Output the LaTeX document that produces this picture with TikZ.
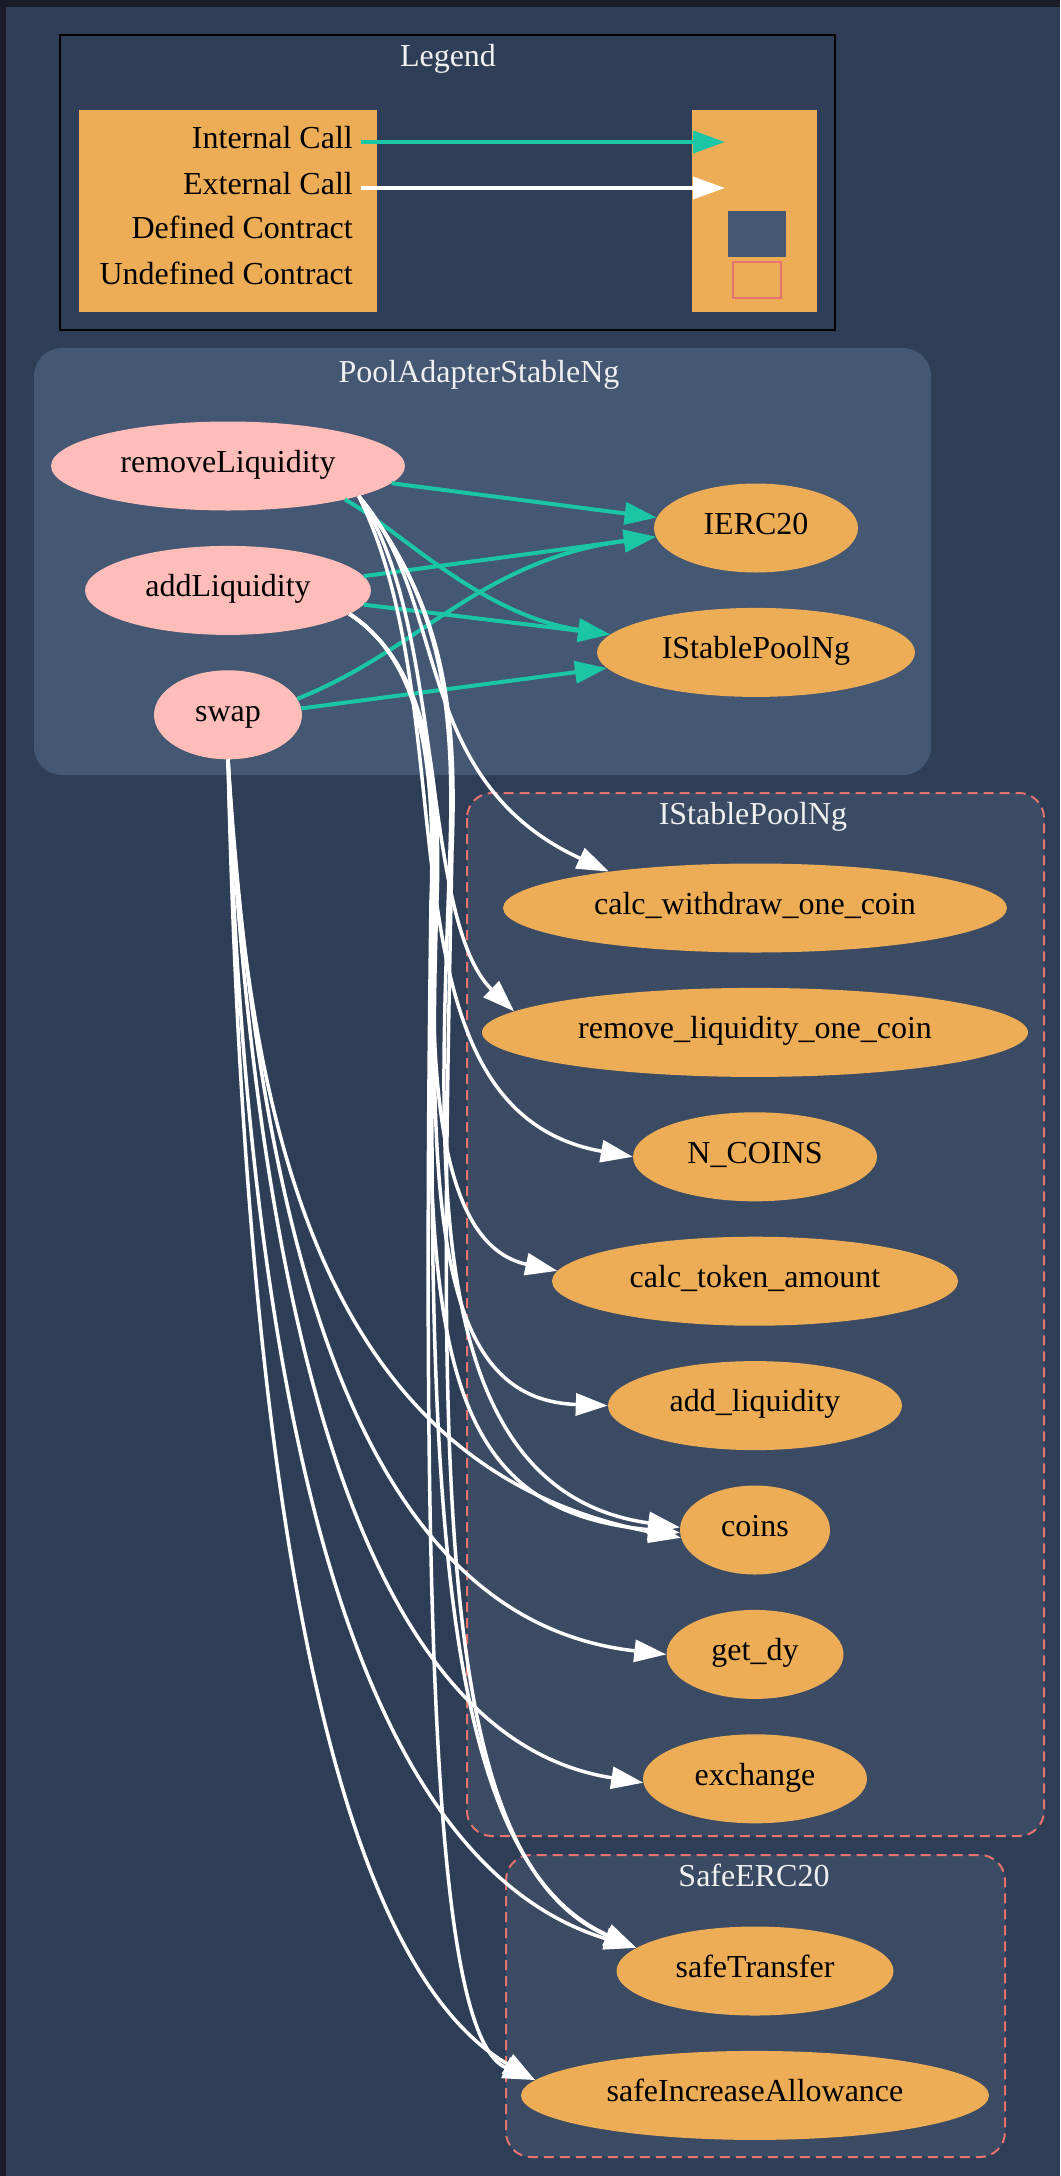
\documentclass[tikz,border=0pt]{standalone}
\usepackage{fontspec}
\setmainfont{Liberation Serif}
\usepackage{tikz}
\usetikzlibrary{arrows.meta, positioning, shapes.geometric}
\definecolor{bgcol}{HTML}{2E3E56}
\definecolor{framecol}{HTML}{1B1B29}
\definecolor{defcol}{HTML}{445773}
\definecolor{undefcol}{HTML}{3B4B63}
\definecolor{undefline}{HTML}{E8726D}
\definecolor{orangefn}{HTML}{EDAD56}
\definecolor{pinkfn}{HTML}{FFBDB9}
\definecolor{tealcall}{HTML}{1BC6A6}
\definecolor{titlecol}{HTML}{F0F0F0}

\begin{document}
\begin{tikzpicture}
                            [x=1pt, y=-1pt,
                             font=\fontsize{32}{38}\selectfont,
                             every node/.style={inner sep=0pt, text height=1.35em, text depth=0.1em},
                             fn/.style={ellipse, fill=pinkfn, minimum height=89pt},
                             extfn/.style={ellipse, fill=orangefn, minimum height=89pt},
                             clustertitle/.style={text=titlecol},
                             undefbox/.style={draw=undefline, fill=undefcol, line width=2pt, dash pattern=on 10pt off 6pt, rounded corners=25pt},
                             internal/.style={draw=tealcall, line width=4pt, -{Triangle[length=32pt, width=22pt]}},
                             external/.style={draw=white, line width=3.5pt, -{Triangle[length=32pt, width=22pt]}}]

    \useasboundingbox (0,0) rectangle (1060,2176);
    \fill[framecol] (0,0) rectangle (1060,2176);
    \fill[bgcol] (6,7) rectangle (1060,2176);

    % legend
    \draw[black, line width=2pt] (60,35) rectangle (835,330);
    \node[clustertitle] (legendtitle) at (448,60) {Legend};
    \fill[orangefn] (79,110) rectangle (377,312);
    \fill[orangefn] (692,110) rectangle (817,312);
    \node[anchor=east] (keyint) at (353,142) {Internal Call};
    \node[anchor=east] (keyext) at (353,188) {External Call};
    \node[anchor=east] (keydef) at (353,232) {Defined Contract};
    \node[anchor=east] (keyundef) at (353,278) {Undefined Contract};
    \coordinate (keyintend) at (725,142);
    \coordinate (keyextend) at (725,188);
    \draw[internal] ([xshift=8pt]keyint.east) -- (keyintend);
    \draw[external] ([xshift=8pt]keyext.east) -- (keyextend);
    \fill[defcol] (728,211) rectangle (786,257);
    \draw[undefline, line width=2pt, fill=orangefn] (733,262) rectangle (781,298);

    % clusters
    \fill[defcol, rounded corners=28pt] (34,348) rectangle (931,775);
    \node[clustertitle] (pooltitle) at (479,376) {PoolAdapterStableNg};
    \draw[undefbox] (467,793) rectangle (1044,1836);
    \node[clustertitle] (ispooltitle) at (753,818) {IStablePoolNg};
    \draw[undefbox] (506,1855) rectangle (1005,2157);
    \node[clustertitle] (safetitle) at (754,1880) {SafeERC20};

    \node[fn, minimum width=354pt] (rl) at (228,466) {removeLiquidity};
    \node[fn, minimum width=286pt, below=35pt of rl] (al) {addLiquidity};
    \node[fn, minimum width=148pt, below=35pt of al] (sw) {swap};
    \node[extfn, minimum width=204pt] (ierc) at (756,528) {IERC20};
    \node[extfn, minimum width=318pt, below=35pt of ierc] (isp) {IStablePoolNg};

    \node[extfn, minimum width=504pt] (cwoc) at (755,908) {calc\_withdraw\_one\_coin};
    \node[extfn, minimum width=546pt, below=35pt of cwoc] (rloc) {remove\_liquidity\_one\_coin};
    \node[extfn, minimum width=244pt, below=35pt of rloc] (ncoins) {N\_COINS};
    \node[extfn, minimum width=406pt, below=35pt of ncoins] (cta) {calc\_token\_amount};
    \node[extfn, minimum width=294pt, below=35pt of cta] (addliq) {add\_liquidity};
    \node[extfn, minimum width=150pt, below=35pt of addliq] (coins) {coins};
    \node[extfn, minimum width=177pt, below=35pt of coins] (getdy) {get\_dy};
    \node[extfn, minimum width=224pt, below=35pt of getdy] (exch) {exchange};
    \node[extfn, minimum width=277pt] (stransfer) at (755,1971) {safeTransfer};
    \node[extfn, minimum width=468pt, below=35pt of stransfer] (sia) {safeIncreaseAllowance};

    % internal calls
    \draw[internal] (rl.-6) -- (ierc.174);
    \draw[internal] (rl.-16) .. controls (400,530) and (480,615) .. (isp.173);
    \draw[internal] (al.6) -- (ierc.185);
    \draw[internal] (al.-6) -- (isp.173);
    \draw[internal] (sw.13) .. controls (420,650) and (480,560) .. (ierc.185);
    \draw[internal] (sw.5) -- (isp.186);

    % external calls
    \draw[external] (rl.-13) .. controls (450,600) and (410,780) .. (cwoc.166);
    \draw[external] (rl.-13) .. controls (445,620) and (420,920) .. (rloc.175);
    \draw[external] (rl.-13) .. controls (470,720) and (370,1110) .. (ncoins.west);
    \draw[external] (rl.-13) .. controls (440,600) and (455,700) .. (450,850)
                             .. controls (440,1150) and (415,1490) .. (coins.178);
    \draw[external] (rl.-13) .. controls (440,600) and (458,700) .. (452,850)
                             .. controls (440,1450) and (430,1860) .. (stransfer.169);
    \draw[external] (al.-11) .. controls (420,660) and (440,760) .. (435,900)
                             .. controls (425,1150) and (460,1250) .. (cta.177);
    \draw[external] (al.-11) .. controls (420,660) and (442,760) .. (437,900)
                             .. controls (425,1250) and (450,1400) .. (addliq.west);
    \draw[external] (al.-11) .. controls (420,660) and (438,760) .. (433,900)
                             .. controls (420,1350) and (440,1510) .. (coins.182);
    \draw[external] (al.-11) .. controls (420,660) and (440,760) .. (434,900)
                             .. controls (425,1500) and (440,1860) .. (stransfer.169);
    \draw[external] (al.-11) .. controls (420,660) and (436,760) .. (431,900)
                             .. controls (420,1700) and (440,2040) .. (sia.176);
    \draw[external] (sw.south) .. controls (250,1150) and (330,1470) .. (coins.186);
    \draw[external] (sw.south) .. controls (260,1250) and (360,1620) .. (getdy.west);
    \draw[external] (sw.south) .. controls (260,1350) and (370,1740) .. (exch.182);
    \draw[external] (sw.south) .. controls (250,1500) and (380,1870) .. (stransfer.169);
    \draw[external] (sw.south) .. controls (250,1700) and (380,1990) .. (sia.176);
\end{tikzpicture}
\end{document}
